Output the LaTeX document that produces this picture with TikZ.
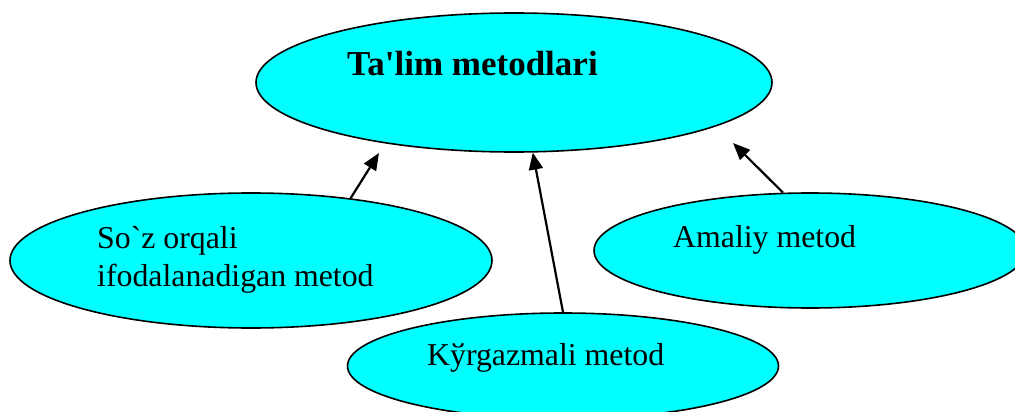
\documentclass[tikz,border=0pt]{standalone}
\usepackage{fontspec}
\setmainfont{Liberation Serif}[Ligatures=TeXOff]
\usetikzlibrary{shapes.geometric,arrows.meta}
\definecolor{cyanc}{RGB}{0,255,255}
\begin{document}
\begin{tikzpicture}[x=1pt,y=-1pt,
  oval/.style={ellipse, draw=black, line width=1.6pt, fill=cyanc, inner sep=0pt},
  lbl/.style={anchor=base west, inner sep=0pt, font=\fontsize{31.8}{38}\selectfont},
  arr/.style={line width=2.2pt, -{Triangle[length=17pt,width=14pt]}}]
\useasboundingbox (0,0) rectangle (1015,412);
\node[oval, minimum width=516pt, minimum height=139pt] (top) at (514,82.5) {};
\node[oval, minimum width=482pt, minimum height=135pt] (left) at (251,260.5) {};
\node[oval, minimum width=431pt, minimum height=106pt] (bot) at (563,366) {};
\node[oval, minimum width=432pt, minimum height=115pt] (right) at (810,250.5) {};
\node[lbl, font=\bfseries\fontsize{35}{42}\selectfont] (tt) at (347,76) {Ta'lim metodlari};
\node[lbl] (s1) at (97,248) {So`z orqali};
\node[lbl] (s2) at (97,286) {ifodalanadigan metod};
\node[lbl] (k) at (427,365) {Kўrgazmali metod};
\node[lbl] (a) at (673,247) {Amaliy metod};
\coordinate (t1) at (379,153);
\coordinate (t3) at (733,143);
\draw[arr] (left.32) -- (t1);
\draw[arr] (bot.north) -- (top.-75);
\draw[arr] (right.115) -- (t3);
\end{tikzpicture}
\end{document}
